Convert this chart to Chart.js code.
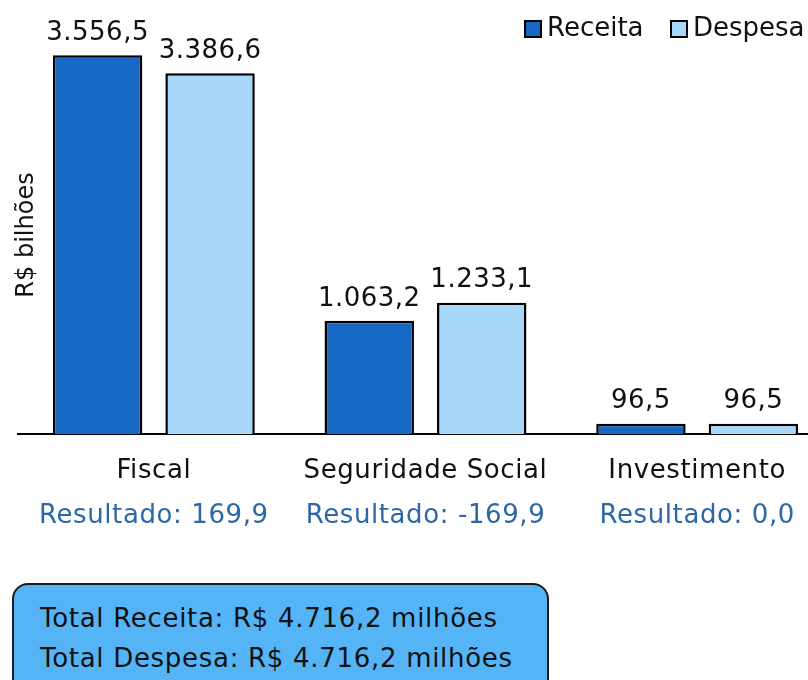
<!DOCTYPE html>
<html>
<head>
<meta charset="utf-8">
<script src="https://cdn.jsdelivr.net/npm/chart.js@4.4.0/dist/chart.umd.min.js"></script>
<style>
  html, body { margin: 0; padding: 0; background: #fff; overflow: hidden; }
  #wrap { position: relative; width: 833px; height: 680px; }
  #grafico { position: absolute; left: 0; top: 0; }
  #caixaTotal {
    position: absolute; left: 12px; top: 583px; width: 537px; height: 120px;
    background: #55b4f6; border: 2px solid #1a1a1a; border-radius: 16px;
    box-sizing: border-box; font-family: "DejaVu Sans", sans-serif; font-size: 26px;
    letter-spacing: 0.7px; color: #111; padding: 13px 0 0 26px; line-height: 40px;
  }
</style>
</head>
<body>
<div id="wrap">
  <canvas id="grafico" width="833" height="560"></canvas>
  <div id="caixaTotal"></div>
</div>
<script>
var categorias = ["Fiscal", "Seguridade Social", "Investimento"];
var receita = [3556.5, 1063.2, 96.5];
var despesa = [3386.6, 1233.1, 96.5];
var nomeSeries = ["Receita", "Despesa"];
var corReceita = '#1569c4';
var corDespesa = '#a7d7f8';
var fonte = '"DejaVu Sans", sans-serif';

function formatar(v) {
    var neg = v < 0;
    var s = Math.abs(v).toFixed(1).split('.');
    var inteiro = s[0].replace(/\B(?=(\d{3})+(?!\d))/g, '.');
    return (neg ? '-' : '') + inteiro + ',' + s[1];
}

var textos = {
    id: 'textos',
    afterDatasetsDraw: function (chart) {
        var ctx = chart.ctx;
        ctx.save();
        ctx.fillStyle = '#111';
        ctx.textAlign = 'center';
        ctx.textBaseline = 'middle';
        ctx.font = '26px ' + fonte;
        ctx.letterSpacing = '0.5px';
        chart.data.datasets.forEach(function (ds, i) {
            chart.getDatasetMeta(i).data.forEach(function (bar, j) {
                ctx.fillText(formatar(ds.data[j]), bar.x, bar.y - 22);
            });
        });

        var x = chart.scales.x;
        ctx.font = '26px ' + fonte;
        ctx.letterSpacing = '0.6px';
        categorias.forEach(function (c, j) {
            var px = x.getPixelForValue(j);
            ctx.fillStyle = '#111';
            ctx.fillText(c, px, 471);
            ctx.fillStyle = '#2c68a6';
            ctx.fillText('Resultado: ' + formatar(receita[j] - despesa[j]), px, 516);
        });

        // titulo do eixo y
        ctx.fillStyle = '#111';
        ctx.font = '24px ' + fonte;
        ctx.letterSpacing = '0px';
        ctx.translate(27, 235);
        ctx.rotate(-Math.PI / 2);
        ctx.fillText('R$ bilhões', 0, 0);
        ctx.restore();

        // legenda
        ctx.save();
        ctx.font = '26px ' + fonte;
        ctx.textBaseline = 'middle';
        ctx.textAlign = 'left';
        var lx = [525, 671];
        chart.data.datasets.forEach(function (ds, i) {
            ctx.fillStyle = ds.backgroundColor;
            ctx.fillRect(lx[i], 21, 16, 16);
            ctx.lineWidth = 2;
            ctx.strokeStyle = '#000';
            ctx.strokeRect(lx[i], 21, 16, 16);
            ctx.fillStyle = '#111';
            ctx.fillText(ds.label, lx[i] + 22, 29);
        });
        ctx.restore();
    }
};

new Chart(document.getElementById('grafico'), {
    type: 'bar',
    data: {
        labels: categorias,
        datasets: [{
            label: nomeSeries[0],
            data: receita,
            backgroundColor: corReceita,
            borderColor: '#000',
            borderWidth: 2.5,
            borderSkipped: 'bottom'
        }, {
            label: nomeSeries[1],
            data: despesa,
            backgroundColor: corDespesa,
            borderColor: '#000',
            borderWidth: 2.5,
            borderSkipped: 'bottom'
        }]
    },
    options: {
        responsive: false,
        animation: false,
        datasets: { bar: { categoryPercentage: 0.828, barPercentage: 0.795 } },
        layout: { padding: { left: 18, right: 0, top: 8, bottom: 126 } },
        plugins: { legend: { display: false }, tooltip: { enabled: false } },
        scales: {
            x: {
                grid: { display: false, drawTicks: false },
                border: { display: true, color: '#000', width: 2 },
                ticks: { display: false }
            },
            y: { display: false, min: 0, max: 4000 }
        }
    },
    plugins: [textos]
});

var totalReceita = receita.reduce(function (a, b) { return a + b; }, 0);
var totalDespesa = despesa.reduce(function (a, b) { return a + b; }, 0);
document.getElementById('caixaTotal').innerHTML =
    'Total Receita: R$ ' + formatar(totalReceita) + ' milhões<br>' +
    'Total Despesa: R$ ' + formatar(totalDespesa) + ' milhões';
</script>
</body>
</html>
